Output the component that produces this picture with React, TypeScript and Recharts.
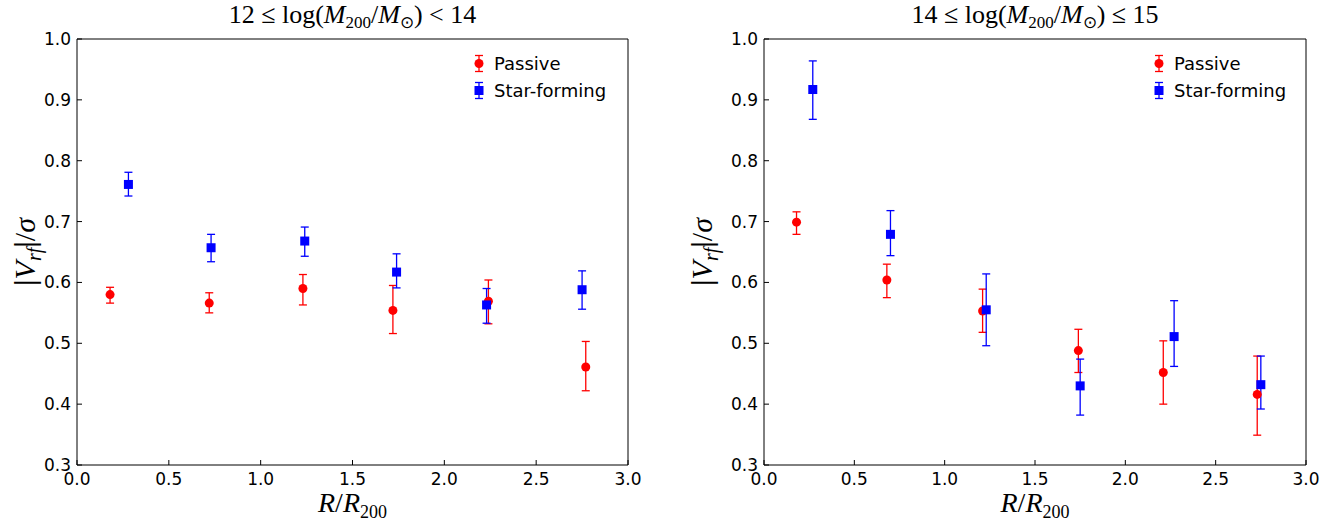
import {
  ErrorBar,
  Legend,
  Scatter,
  ScatterChart,
  XAxis,
  YAxis,
} from "recharts";

// R / R200 bins and |V_rf|/sigma values
const lowPassiveR = [0.18, 0.72, 1.23, 1.72, 2.24, 2.77];
const lowPassiveV = [0.58, 0.566, 0.59, 0.554, 0.569, 0.461];
const lowPassiveLo = [0.566, 0.55, 0.563, 0.516, 0.532, 0.422];
const lowPassiveHi = [0.592, 0.583, 0.613, 0.595, 0.604, 0.503];

const lowSfR = [0.28, 0.73, 1.24, 1.74, 2.23, 2.75];
const lowSfV = [0.761, 0.657, 0.668, 0.617, 0.563, 0.588];
const lowSfLo = [0.742, 0.634, 0.643, 0.591, 0.533, 0.556];
const lowSfHi = [0.781, 0.679, 0.691, 0.647, 0.59, 0.619];

const highPassiveR = [0.18, 0.68, 1.21, 1.74, 2.21, 2.73];
const highPassiveV = [0.699, 0.604, 0.553, 0.488, 0.452, 0.416];
const highPassiveLo = [0.679, 0.575, 0.518, 0.452, 0.4, 0.349];
const highPassiveHi = [0.716, 0.63, 0.589, 0.523, 0.504, 0.479];

const highSfR = [0.27, 0.7, 1.23, 1.75, 2.27, 2.75];
const highSfV = [0.917, 0.679, 0.555, 0.43, 0.511, 0.432];
const highSfLo = [0.868, 0.644, 0.496, 0.382, 0.462, 0.392];
const highSfHi = [0.964, 0.718, 0.614, 0.474, 0.57, 0.479];

const xTicks = [0, 0.5, 1, 1.5, 2, 2.5, 3];
const yTicks = [0.3, 0.4, 0.5, 0.6, 0.7, 0.8, 0.9, 1.0];

const RED = "#ff0000";
const BLUE = "#0000ff";
const TICK_FONT = "DejaVu Sans, sans-serif";
const MATH_FONT = "Liberation Serif, serif";

type Row = { r: number; v: number; err: [number, number] };

const toRows = (r: number[], v: number[], lo: number[], hi: number[]): Row[] =>
  r.map((x, i) => ({ r: x, v: v[i], err: [v[i] - lo[i], hi[i] - v[i]] }));

const Dot = (props: any) => (
  <circle cx={props.cx} cy={props.cy} r={4.5} fill={RED} />
);
const Square = (props: any) => (
  <rect x={props.cx - 4.5} y={props.cy - 4.5} width={9} height={9} fill={BLUE} />
);

const LegendMark = ({ color, square }: { color: string; square?: boolean }) => (
  <svg width={20} height={27} style={{ display: "block" }}>
    <g stroke={color} strokeWidth={1.3}>
      <line x1={10} x2={10} y1={5.5} y2={21.5} />
      <line x1={6} x2={14} y1={5.5} y2={5.5} />
      <line x1={6} x2={14} y1={21.5} y2={21.5} />
    </g>
    {square ? (
      <rect x={5.5} y={9} width={9} height={9} fill={color} />
    ) : (
      <circle cx={10} cy={13.5} r={4.5} fill={color} />
    )}
  </svg>
);

const LegendBox = () => (
  <div style={{ fontFamily: TICK_FONT, fontSize: 18, color: "#000" }}>
    {[
      { name: "Passive", color: RED, square: false },
      { name: "Star-forming", color: BLUE, square: true },
    ].map((it) => (
      <div
        key={it.name}
        style={{ display: "flex", alignItems: "center", height: 27, whiteSpace: "nowrap" }}
      >
        <LegendMark color={it.color} square={it.square} />
        <span style={{ marginLeft: 5 }}>{it.name}</span>
      </div>
    ))}
  </div>
);

const Title = ({ viewBox, lo, op, hi }: any) => {
  const cx = viewBox.x + viewBox.width / 2;
  return (
    <text x={cx} y={23} textAnchor="middle" fontFamily={MATH_FONT} fontSize={26} fill="#000">
      {lo} ≤ log(
      <tspan fontStyle="italic">M</tspan>
      <tspan fontSize={17} dy={5}>200</tspan>
      <tspan dy={-5}>/</tspan>
      <tspan fontStyle="italic">M</tspan>
      <tspan fontSize={17} dy={5}>⊙</tspan>
      <tspan dy={-5}>) {op} {hi}</tspan>
    </text>
  );
};

const XLabel = ({ viewBox }: any) => (
  <text
    x={viewBox.x + viewBox.width / 2}
    y={512}
    textAnchor="middle"
    fontFamily={MATH_FONT}
    fontSize={28}
    fill="#000"
  >
    <tspan fontStyle="italic">R</tspan>/<tspan fontStyle="italic">R</tspan>
    <tspan fontSize={18} dy={6}>200</tspan>
  </text>
);

const YLabel = ({ viewBox, x }: any) => {
  const cy = viewBox.y + viewBox.height / 2;
  return (
    <text
      x={x}
      y={cy}
      transform={`rotate(-90, ${x}, ${cy})`}
      textAnchor="middle"
      fontFamily={MATH_FONT}
      fontSize={30}
      fill="#000"
    >
      <tspan fontWeight="bold">|</tspan>
      <tspan fontStyle="italic">V</tspan>
      <tspan fontStyle="italic" fontSize={20} dy={6}>rf</tspan>
      <tspan dy={-6} fontWeight="bold">|</tspan>
      <tspan>/</tspan>
      <tspan fontStyle="italic">σ</tspan>
    </text>
  );
};

type PanelProps = {
  passive: Row[];
  starForming: Row[];
  lo: string;
  op: string;
  hi: string;
  axisWidth: number;
  rightMargin: number;
  yLabelX: number;
  legendLeft: number;
};

const Panel = ({
  passive,
  starForming,
  lo,
  op,
  hi,
  axisWidth,
  rightMargin,
  yLabelX,
  legendLeft,
}: PanelProps) => (
  <ScatterChart
    width={667}
    height={521}
    margin={{ top: 38, right: rightMargin, bottom: 0, left: 0 }}
  >
    <XAxis
      dataKey="r"
      type="number"
      domain={[0, 3]}
      ticks={xTicks}
      allowDataOverflow
      height={56}
      tickSize={-5}
      tickMargin={13}
      tickFormatter={(t: number) => t.toFixed(1)}
      tick={{ fontFamily: TICK_FONT, fontSize: 17, fill: "#000" }}
      stroke="#000"
      label={{ content: (p: any) => <XLabel {...p} /> }}
    />
    <XAxis
      xAxisId="top"
      dataKey="r"
      orientation="top"
      type="number"
      domain={[0, 3]}
      ticks={xTicks}
      allowDataOverflow
      height={1}
      tickSize={-5}
      tick={false}
      stroke="#000"
      label={{ content: (p: any) => <Title {...p} lo={lo} op={op} hi={hi} /> }}
    />
    <YAxis
      dataKey="v"
      type="number"
      domain={[0.3, 1.0]}
      ticks={yTicks}
      allowDataOverflow
      width={axisWidth}
      tickSize={-5}
      tickMargin={11}
      tickFormatter={(t: number) => t.toFixed(1)}
      tick={{ fontFamily: TICK_FONT, fontSize: 17, fill: "#000" }}
      stroke="#000"
      label={{ content: (p: any) => <YLabel {...p} x={yLabelX} /> }}
    />
    <YAxis
      yAxisId="right"
      dataKey="v"
      orientation="right"
      type="number"
      domain={[0.3, 1.0]}
      ticks={yTicks}
      allowDataOverflow
      width={1}
      tickSize={-5}
      tick={false}
      stroke="#000"
    />
    <Legend
      layout="vertical"
      align="center"
      verticalAlign="middle"
      wrapperStyle={{ left: legendLeft, top: 50, width: 180, height: 54 }}
      content={() => <LegendBox />}
    />
    {/* passive drawn on the top/right axes (same domains) so the box frame gets drawn */}
    <Scatter
      name="Passive"
      data={passive}
      xAxisId="top"
      yAxisId="right"
      fill={RED}
      shape={Dot}
      isAnimationActive={false}
    >
      <ErrorBar dataKey="err" direction="y" width={4} stroke={RED} strokeWidth={1.3} isAnimationActive={false} />
    </Scatter>
    <Scatter name="Star-forming" data={starForming} fill={BLUE} shape={Square} isAnimationActive={false}>
      <ErrorBar dataKey="err" direction="y" width={4} stroke={BLUE} strokeWidth={1.3} isAnimationActive={false} />
    </Scatter>
  </ScatterChart>
);

export default function App() {
  return (
    <div
      style={{
        position: "absolute",
        left: 0,
        top: 0,
        width: 1334,
        height: 521,
        display: "flex",
        background: "#fff",
      }}
    >
      <Panel
        passive={toRows(lowPassiveR, lowPassiveV, lowPassiveLo, lowPassiveHi)}
        starForming={toRows(lowSfR, lowSfV, lowSfLo, lowSfHi)}
        lo="12"
        op="<"
        hi="14"
        axisWidth={77}
        rightMargin={38}
        yLabelX={35}
        legendLeft={469}
      />
      <Panel
        passive={toRows(highPassiveR, highPassiveV, highPassiveLo, highPassiveHi)}
        starForming={toRows(highSfR, highSfV, highSfLo, highSfHi)}
        lo="14"
        op="≤"
        hi="15"
        axisWidth={97}
        rightMargin={27}
        yLabelX={45}
        legendLeft={482}
      />
    </div>
  );
}
